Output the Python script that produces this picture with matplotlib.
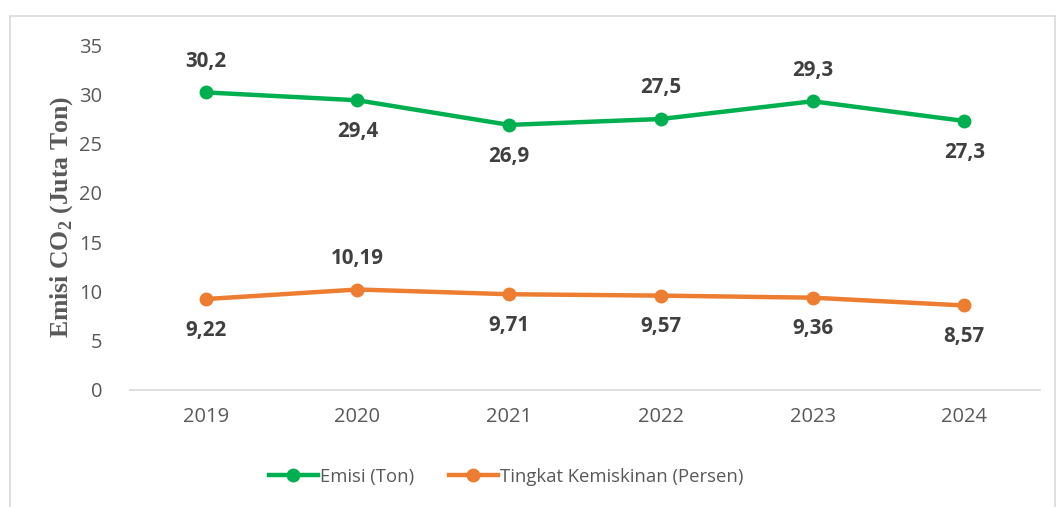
import matplotlib.pyplot as plt
from matplotlib.patches import Rectangle

years = ['2019', '2020', '2021', '2022', '2023', '2024']
emisi = [30.2, 29.4, 26.9, 27.5, 29.3, 27.3]
miskin = [9.22, 10.19, 9.71, 9.57, 9.36, 8.57]
emisi_lbl = ['30,2', '29,4', '26,9', '27,5', '29,3', '27,3']
miskin_lbl = ['9,22', '10,19', '9,71', '9,57', '9,36', '8,57']
emisi_pos = [1, -1, -1, 1, 1, -1]   # 1 = above, -1 = below
miskin_pos = [-1, 1, -1, -1, -1, -1]

green = '#00B050'
orange = '#ED7D31'
grey = '#595959'

plt.rc('font', family=['Open Sans', 'DejaVu Sans'])
plt.rc('mathtext', fontset='custom', rm='Liberation Serif:bold', bf='Liberation Serif:bold')

fig = plt.figure(figsize=(10.56, 5.07), dpi=100)
ax = fig.add_axes([0.123, 0.231, 0.862, 0.68])

x = range(len(years))
ax.plot(x, emisi, '-o', color=green, lw=3.2, ms=9, label='Emisi (Ton)')
ax.plot(x, miskin, '-o', color=orange, lw=3.2, ms=9, label='Tingkat Kemiskinan (Persen)')

for i in x:
    ax.annotate(emisi_lbl[i], (i, emisi[i]), xytext=(0, 22.5 * emisi_pos[i]),
                textcoords='offset points', ha='center', va='center',
                fontsize=14.8, fontweight='bold', color='#404040')
    ax.annotate(miskin_lbl[i], (i, miskin[i]), xytext=(0, 22.5 * miskin_pos[i]),
                textcoords='offset points', ha='center', va='center',
                fontsize=14.8, fontweight='bold', color='#404040')

ax.set_xlim(-0.5, 5.5)
ax.set_ylim(0, 35)
ax.set_yticks(range(0, 36, 5))
ax.set_xticks(list(x))
ax.set_xticklabels(years)
ax.tick_params(length=0, labelsize=14.5, colors=grey, pad=12)
ax.tick_params(axis='y', pad=20)
for s in ['top', 'right', 'left']:
    ax.spines[s].set_visible(False)
ax.spines['bottom'].set_color('#D9D9D9')
ax.spines['bottom'].set_linewidth(1.2)

ax.set_ylabel(r'Emisi CO$_{2}$ (Juta Ton)', family='Liberation Serif',
              fontsize=18.5, fontweight='bold', color=grey)
ax.yaxis.set_label_coords(-0.06, 0.5)

fig.legend(loc='center', bbox_to_anchor=(0.479, 0.06), ncol=2, frameon=False,
           fontsize=13.3, handlelength=2.65, columnspacing=1.9, handletextpad=0.1,
           labelcolor=grey)

fig.patches.append(Rectangle((0.0095, -0.01), 0.99, 0.978, transform=fig.transFigure,
                             fill=False, edgecolor='#D9D9D9', lw=1.2))

plt.savefig('out.png', dpi=100)
